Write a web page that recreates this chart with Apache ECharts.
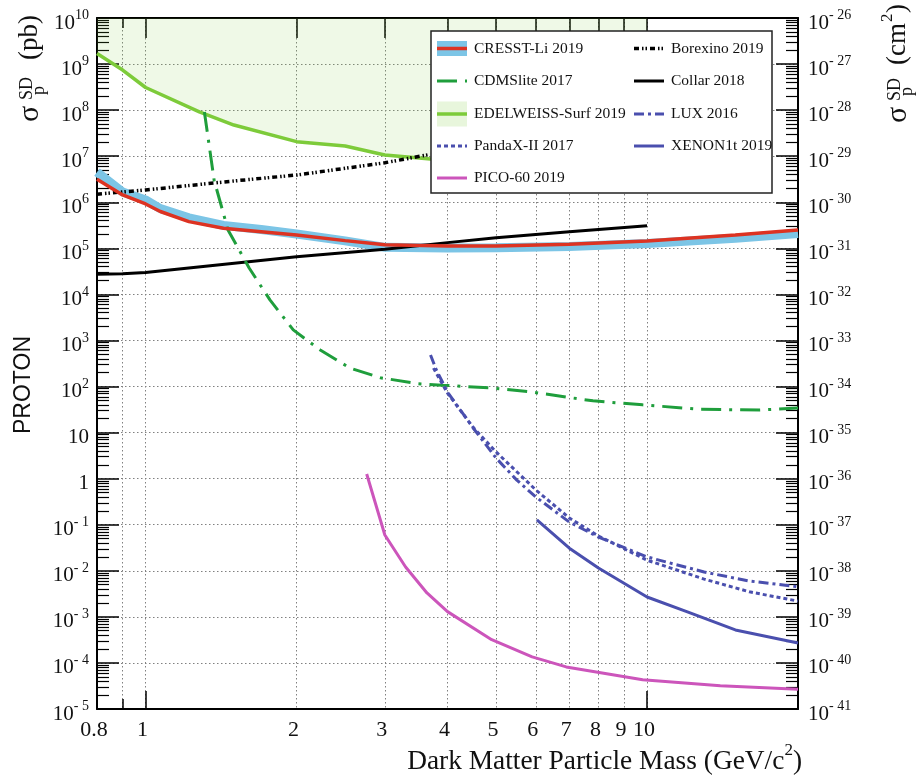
<!DOCTYPE html>
<html>
<head>
<meta charset="utf-8">
<script src="https://cdn.jsdelivr.net/npm/echarts@6/dist/echarts.min.js"></script>
<style>
  html, body { margin: 0; padding: 0; background: #fff; }
  #chart { width: 918px; height: 780px; }
</style>
</head>
<body>
<div id="chart"></div>
<script>
// Spin-dependent WIMP-proton cross-section limits versus dark-matter mass.

// ---- axis ticks ----
const massLabelTicks = [0.8, 1, 2, 3, 4, 5, 6, 7, 8, 9, 10];
const massGridTicks = [0.9, 1, 2, 3, 4, 5, 6, 7, 8, 9, 10];
const massShortTicks = [0.9];
const massLongTicksBottom = [1, 10];
const massLongTicksTop = [1, 2, 3, 4, 5, 6, 7, 8, 9, 10];
const sigmaDecades = [1e-5, 1e-4, 1e-3, 1e-2, 1e-1, 1, 1e1, 1e2, 1e3, 1e4, 1e5, 1e6, 1e7, 1e8, 1e9, 1e10];
const sigmaMinorTicks = [];
for (let k = -5; k < 10; k++) {
  for (let m = 2; m <= 9; m++) sigmaMinorTicks.push(m * Math.pow(10, k));
}
const PB_TO_CM2_EXP = -36; // 1 pb = 1e-36 cm^2

// ---- limit curves: mass (GeV/c^2) and cross section (pb) ----
const cresstMass  = [0.8, 0.9, 1.0, 1.07, 1.22, 1.43, 1.7, 2.0, 2.5, 3.0, 4.0, 5.0, 7.0, 10, 15, 20];
const cresstLimit = [3.15e6, 1.44e6, 9.2e5, 6.3e5, 3.8e5, 2.72e5, 2.3e5, 1.95e5, 1.47e5, 1.2e5, 1.12e5, 1.12e5, 1.22e5, 1.45e5, 1.95e5, 2.5e5];
const cresstBand  = [4.5e6, 1.67e6, 1.12e6, 7.3e5, 4.6e5, 3.15e5, 2.57e5, 2.05e5, 1.45e5, 1.05e5, 1.02e5, 1.03e5, 1.09e5, 1.28e5, 1.66e5, 2.1e5];

const cdmsliteMass  = [1.31, 1.37, 1.46, 1.61, 1.77, 1.97, 2.23, 2.56, 2.94, 3.5, 3.9, 4.9, 5.9, 6.9, 7.8, 9.8, 12.8, 16.8, 20];
const cdmsliteLimit = [9.1e7, 3.0e6, 2.5e5, 3.7e4, 7.6e3, 1.7e3, 620, 250, 155, 115, 107, 93, 76, 59, 49, 40, 32, 31, 34];

const edelweissMass  = [0.8, 0.9, 1.0, 1.28, 1.5, 2.0, 2.5, 3.0, 3.7, 5, 7, 10];
const edelweissLimit = [1.7e9, 7.4e8, 3.1e8, 9.2e7, 4.75e7, 2.07e7, 1.67e7, 1.06e7, 8.7e6, 7.5e6, 6.5e6, 6.0e6];

const pandaxMass  = [3.75, 4.0, 4.5, 5.0, 6.0, 7.0, 8.0, 10, 13, 16, 20];
const pandaxLimit = [251, 72, 13, 3.8, 0.57, 0.14, 0.057, 0.017, 0.0066, 0.0035, 0.0022];

const picoMass  = [2.76, 3.0, 3.3, 3.64, 4.0, 4.9, 5.9, 6.9, 9.8, 14, 20];
const picoLimit = [1.26, 0.060, 0.0121, 0.0033, 0.0013, 3.2e-4, 1.35e-4, 8.2e-5, 4.3e-5, 3.2e-5, 2.7e-5];

const borexinoMass  = [0.8, 1.0, 1.5, 2.0, 3.0, 3.7];
const borexinoLimit = [1.5e6, 1.85e6, 2.9e6, 3.9e6, 7.2e6, 1.1e7];

const collarMass  = [0.8, 0.9, 1.0, 2.0, 3.0, 4.0, 5.0, 7.0, 10];
const collarLimit = [2.75e4, 2.8e4, 3.0e4, 6.6e4, 9.5e4, 1.33e5, 1.7e5, 2.3e5, 3.1e5];

const luxMass  = [3.7, 3.8, 4.0, 4.5, 5.0, 5.5, 6.0, 7.0, 8.0, 10, 13, 16, 20];
const luxLimit = [484, 229, 76, 12.6, 2.8, 0.93, 0.40, 0.114, 0.054, 0.020, 0.0094, 0.006, 0.0045];

const xenonMass  = [6.03, 7.0, 8.0, 10, 12, 15, 20];
const xenonLimit = [0.127, 0.031, 0.0115, 0.0027, 0.0013, 5.2e-4, 2.7e-4];

// ---- styling ----
const SERIF = "'Liberation Serif', 'Times New Roman', 'DejaVu Serif', serif";
const SANS = "'Liberation Sans', Arial, 'DejaVu Sans', sans-serif";
const INK = '#111';
const C = {
  cresstRed: '#dd3322', cresstBlue: '#7cc5e6',
  cdms: '#1f9e3c', edel: '#7dcb3a', edelFill: 'rgba(125,205,60,0.18)',
  blue: '#4a4fae', pico: '#cc55bb', black: '#000'
};
const S = {
  cresstBand: { color: C.cresstBlue, width: 9, type: 'solid' },
  cresst: { color: C.cresstRed, width: 3.5, type: 'solid' },
  cdms: { color: C.cdms, width: 3, type: [20, 8, 3, 8] },
  edel: { color: C.edel, width: 3.5, type: 'solid' },
  pandax: { color: C.blue, width: 3, type: [4, 3] },
  pico: { color: C.pico, width: 3, type: 'solid' },
  borexino: { color: C.black, width: 3.5, type: [5, 3, 1.5, 2, 1.5, 3] },
  collar: { color: C.black, width: 3, type: 'solid' },
  lux: { color: C.blue, width: 3, type: [10, 4, 3, 4] },
  xenon: { color: C.blue, width: 3, type: 'solid' }
};

function pairs(xs, ys) { return xs.map((x, i) => [x, ys[i]]); }
function curve(name, xs, ys, lineStyle, extra) {
  return Object.assign({
    type: 'line', name: name, data: pairs(xs, ys),
    xAxisIndex: 0, yAxisIndex: 0,
    symbol: 'none', showSymbol: false, silent: true,
    lineStyle: lineStyle, z: 3
  }, extra || {});
}

const series = [
  curve('EDELWEISS-Surf 2019', edelweissMass, edelweissLimit, S.edel,
        { areaStyle: { origin: 'end', color: C.edelFill }, z: 2 }),
  curve('CRESST-Li 2019 band', cresstMass, cresstBand, S.cresstBand),
  curve('CRESST-Li 2019', cresstMass, cresstLimit, S.cresst, { z: 4 }),
  curve('Borexino 2019', borexinoMass, borexinoLimit, S.borexino),
  curve('Collar 2018', collarMass, collarLimit, S.collar),
  curve('CDMSlite 2017', cdmsliteMass, cdmsliteLimit, S.cdms),
  curve('LUX 2016', luxMass, luxLimit, S.lux),
  curve('PandaX-II 2017', pandaxMass, pandaxLimit, S.pandax),
  curve('XENON1t 2019', xenonMass, xenonLimit, S.xenon),
  curve('PICO-60 2019', picoMass, picoLimit, S.pico)
];

// ---- axes ----
const tickLine = { color: '#000', width: 1.5 };
const massBase = { type: 'log', logBase: 10, min: 0.8, max: 20, gridIndex: 0 };
const sigmaBase = { type: 'log', logBase: 10, min: 1e-5, max: 1e10, gridIndex: 0 };
const noLabel = { show: false };
const noSplit = { show: false };
const noLine = { show: false };
const frameLine = { show: true, onZero: false, lineStyle: { color: '#000', width: 2 } };
const gridDots = { show: true, lineStyle: { color: '#808080', width: 1, type: [1.5, 2.5] } };

function expOf(v) { return Math.round(Math.log10(v)); }
function powerText(e) {
  if (e === 0) return '{b|1}';
  if (e === 1) return '{b|10}';
  return '{b|10}{s|' + (e < 0 ? '- ' + (-e) : e) + '}';
}
const powRich = {
  b: { fontSize: 21, fontFamily: SERIF, color: INK, padding: [10, 0, 0, 0], verticalAlign: 'middle' },
  s: { fontSize: 14, fontFamily: SERIF, color: INK, padding: [0, 0, 5, 0], verticalAlign: 'middle' }
};

const xAxis = [
  Object.assign({}, massBase, {
    position: 'bottom', axisLine: frameLine,
    axisTick: { show: false, customValues: massGridTicks },
    axisLabel: {
      show: true, customValues: massLabelTicks,
      formatter: v => String(Math.round(v * 10) / 10),
      color: INK, fontFamily: SERIF, fontSize: 22, margin: 10, padding: [0, 6, 0, 0]
    },
    splitLine: gridDots
  }),
  Object.assign({}, massBase, {
    position: 'bottom', axisLine: noLine, axisLabel: noLabel, splitLine: noSplit,
    axisTick: { show: true, inside: true, length: 10, customValues: massShortTicks, lineStyle: tickLine }
  }),
  Object.assign({}, massBase, {
    position: 'bottom', axisLine: noLine, axisLabel: noLabel, splitLine: noSplit,
    axisTick: { show: true, inside: true, length: 18, customValues: massLongTicksBottom, lineStyle: tickLine }
  }),
  Object.assign({}, massBase, {
    position: 'top', axisLine: frameLine, axisLabel: noLabel, splitLine: noSplit,
    axisTick: { show: true, inside: true, length: 10, customValues: massShortTicks, lineStyle: tickLine }
  }),
  Object.assign({}, massBase, {
    position: 'top', axisLine: noLine, axisLabel: noLabel, splitLine: noSplit,
    axisTick: { show: true, inside: true, length: 20, customValues: massLongTicksTop, lineStyle: tickLine }
  })
];

const yAxis = [
  Object.assign({}, sigmaBase, {
    position: 'left', axisLine: frameLine,
    axisTick: { show: true, inside: true, length: 22, customValues: sigmaDecades, lineStyle: tickLine },
    axisLabel: {
      show: true, customValues: sigmaDecades, margin: 8,
      formatter: v => powerText(expOf(v)), rich: powRich
    },
    splitLine: gridDots
  }),
  Object.assign({}, sigmaBase, {
    position: 'left', axisLine: noLine, axisLabel: noLabel, splitLine: noSplit,
    axisTick: { show: true, inside: true, length: 12, customValues: sigmaMinorTicks, lineStyle: { color: '#000', width: 1.2 } }
  }),
  Object.assign({}, sigmaBase, {
    position: 'right', axisLine: frameLine, splitLine: noSplit,
    axisTick: { show: true, inside: true, length: 22, customValues: sigmaDecades, lineStyle: tickLine },
    axisLabel: {
      show: true, customValues: sigmaDecades, margin: 10,
      formatter: v => powerText(expOf(v) + PB_TO_CM2_EXP), rich: powRich
    }
  }),
  Object.assign({}, sigmaBase, {
    position: 'right', axisLine: noLine, axisLabel: noLabel, splitLine: noSplit,
    axisTick: { show: true, inside: true, length: 12, customValues: sigmaMinorTicks, lineStyle: { color: '#000', width: 1.2 } }
  })
];

// ---- titles ----
function txt(x, y, text, size, extra) {
  return {
    type: 'text', x: x, y: y, z: 60,
    style: Object.assign({ text: text, fontSize: size, fontFamily: SERIF, fill: INK, align: 'left', verticalAlign: 'middle' }, extra || {})
  };
}
function sigmaTitle(x, y, unitChildren) {
  return {
    type: 'group', x: x, y: y, rotation: Math.PI / 2, z: 60,
    children: [
      txt(0, 0, 'σ', 30),
      txt(22, -3, 'SD', 18),
      txt(27, 9, 'p', 18)
    ].concat(unitChildren)
  };
}

// ---- legend entries ----
const legendCol1 = [
  { name: 'CRESST-Li 2019', line: S.cresst, box: C.cresstBlue, boxH: 15 },
  { name: 'CDMSlite 2017', line: S.cdms },
  { name: 'EDELWEISS-Surf 2019', line: S.edel, box: 'rgba(125,205,60,0.18)', boxH: 25 },
  { name: 'PandaX-II 2017', line: S.pandax },
  { name: 'PICO-60 2019', line: S.pico }
];
const legendCol2 = [
  { name: 'Borexino 2019', line: S.borexino },
  { name: 'Collar 2018', line: S.collar },
  { name: 'LUX 2016', line: S.lux },
  { name: 'XENON1t 2019', line: S.xenon }
];
const legendRowsY = [48.5, 81, 114, 146, 178];

function legendItems(entries, sampleX, textX) {
  const out = [];
  entries.forEach((e, i) => {
    const y = legendRowsY[i];
    if (e.box) {
      out.push({ type: 'rect', z: 55, shape: { x: sampleX, y: y - e.boxH / 2, width: 30, height: e.boxH }, style: { fill: e.box } });
    }
    const dash = Array.isArray(e.line.type) ? e.line.type : null;
    out.push({
      type: 'line', z: 56,
      shape: { x1: sampleX, y1: y, x2: sampleX + 30, y2: y },
      style: { stroke: e.line.color, lineWidth: Math.max(3, e.line.width), lineDash: dash }
    });
    out.push(txt(textX, y, e.name, 15.5, { fill: INK }));
  });
  return out;
}

const graphic = [
  sigmaTitle(30, 122, [txt(62, 0, '(pb)', 27)]),
  sigmaTitle(898, 123, [txt(58, 0, '(cm', 27), txt(101, -10, '2', 17), txt(110, 0, ')', 27)]),
  { type: 'text', x: 24, y: 385, rotation: Math.PI / 2, z: 60,
    style: { text: 'PROTON', fontSize: 23, fontFamily: SANS, fill: INK, align: 'center', verticalAlign: 'middle' } },
  { type: 'text', x: 802, y: 762, z: 60,
    style: {
      text: '{n|Dark Matter Particle Mass (GeV/c}{s|2}{n|)}',
      align: 'right', verticalAlign: 'middle',
      rich: {
        n: { fontSize: 27.4, fontFamily: SERIF, fill: INK, verticalAlign: 'middle' },
        s: { fontSize: 17, fontFamily: SERIF, fill: INK, padding: [0, 0, 22, 0], verticalAlign: 'middle' }
      }
    } },
  { type: 'rect', z: 50, shape: { x: 431, y: 31, width: 341, height: 162 },
    style: { fill: '#fff', stroke: '#222', lineWidth: 1.5 } }
].concat(legendItems(legendCol1, 437, 474), legendItems(legendCol2, 634, 671));

const chart = echarts.init(document.getElementById('chart'), null, { renderer: 'canvas' });
chart.setOption({
  animation: false,
  backgroundColor: '#fff',
  grid: { left: 97, top: 18, width: 701, height: 691, containLabel: false, outerBoundsMode: 'none' },
  xAxis: xAxis,
  yAxis: yAxis,
  series: series,
  graphic: graphic
});
</script>
</body>
</html>
